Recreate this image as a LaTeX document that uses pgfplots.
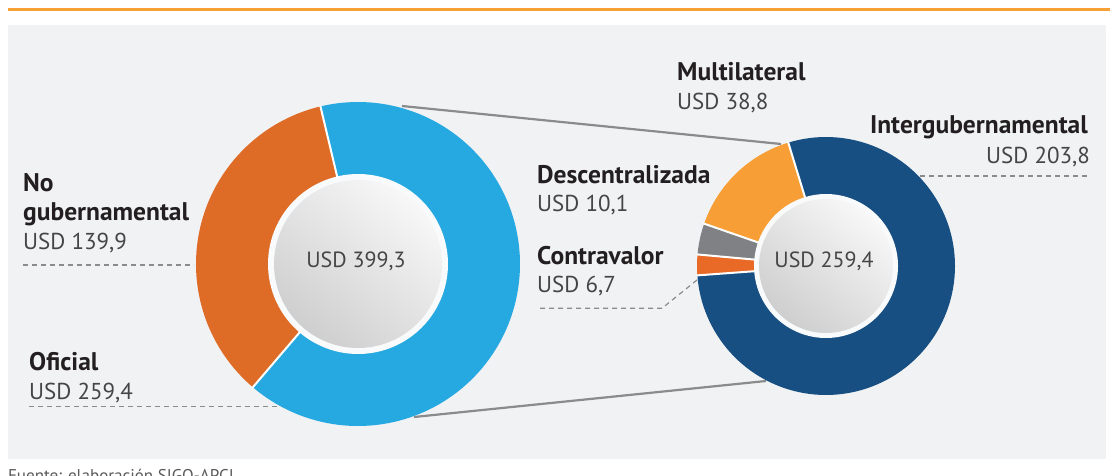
\documentclass[border=0pt]{standalone}
\usepackage{pgfplots}
\pgfplotsset{compat=1.18}
\usepackage{fontspec}
\setmainfont{PT Sans}
\definecolor{cOrange}{HTML}{DE6C27}
\definecolor{cBlue}{HTML}{25A9E0}
\definecolor{cNavy}{HTML}{174F82}
\definecolor{cLOrange}{HTML}{F79E36}
\definecolor{cGray}{HTML}{808184}
\definecolor{cContra}{HTML}{E86A26}
\definecolor{panel}{HTML}{F1F2F4}
\definecolor{topline}{HTML}{F7A035}
\definecolor{lineGray}{HTML}{8A8B8D}
\definecolor{txtDark}{HTML}{231F20}
\definecolor{txtVal}{HTML}{454547}
% data (USD)
\def\vOficial{259.4}
\def\vNoGub{139.9}
\def\vInter{203.8}
\def\vMulti{38.8}
\def\vDesc{10.1}
\def\vContra{6.7}
% left donut angles
\pgfmathsetmacro\Ltot{\vOficial+\vNoGub}
\pgfmathsetmacro\La{103.4}
\pgfmathsetmacro\Lb{\La-\vOficial/\Ltot*360}
\pgfmathsetmacro\Lc{\Lb+360}
% right donut angles
\pgfmathsetmacro\Rtot{\vInter+\vMulti+\vDesc+\vContra}
\pgfmathsetmacro\Ra{107}
\pgfmathsetmacro\Rz{\Ra-\vInter/\Rtot*360}
\pgfmathsetmacro\Rb{\Ra+\vMulti/\Rtot*360}
\pgfmathsetmacro\Rc{\Rb+\vDesc/\Rtot*360}
\pgfmathsetmacro\Rd{\Rc+\vContra/\Rtot*360}
\newcommand\wedgeplot[6]{%
  \addplot[fill=#6, draw=none, domain=#4:#5, samples=120, variable=\t]
    ({#1+#3*cos(\t)},{#2+#3*sin(\t)}) -- (#1,#2) -- cycle;}
\newcommand\sepline[5]{%
  \addplot[white, line width=2pt, domain=#3:#4, samples=2, variable=\t]
    ({#1+\t*cos(#5)},{#2+\t*sin(#5)});}
\newcommand\hole[4]{%
  \addplot[fill=white!60!panel, draw=none, domain=0:360, samples=160, variable=\t]
    ({#1+#3*cos(\t)},{#2+#3*sin(\t)}) -- cycle;
  \addplot[draw=none, top color=white!97!black, bottom color=black!19, shading angle=-40, domain=0:360, samples=160, variable=\t]
    ({#1+#4*cos(\t)},{#2+#4*sin(\t)}) -- cycle;}
\newcommand\bfl{\bfseries\fontsize{25.5}{29}\selectfont}
\newcommand\rgl{\fontsize{23}{27}\selectfont}
\begin{document}
\begin{tikzpicture}
\begin{axis}[x=1pt, y=1pt, xmin=0, xmax=1110, ymin=0, ymax=475,
  hide axis, clip=false, anchor=origin, at={(0,0)}]
\coordinate (BL) at (0,0);
\coordinate (TR) at (1110,475);
% background
\fill[panel] (8,16) rectangle (1106,450);
\addplot[topline, line width=2.6pt] coordinates {(8,465.5) (1110,465.5)};
% connectors
\addplot[lineGray, line width=2.2pt] coordinates {(402,369) (781,331)};
\addplot[lineGray, line width=2.2pt] coordinates {(414,58) (766,94)};
% dashed leaders
\addplot[lineGray, line width=1.2pt, dash pattern=on 5pt off 4pt] coordinates {(23,210) (194,210)};
\addplot[lineGray, line width=1.2pt, dash pattern=on 5pt off 4pt] coordinates {(29,68.3) (278,68.3)};
\addplot[lineGray, line width=1.2pt, dash pattern=on 5pt off 4pt] coordinates {(920,299) (1089,299)};
\addplot[lineGray, line width=1.2pt, dash pattern=on 5pt off 4pt] coordinates {(540,166.7) (662,166.7) (697,195)};
% left donut (center 358,211)
\wedgeplot{358}{211}{162}{\Lb}{\La}{cBlue}
\wedgeplot{358}{211}{162}{\La}{\Lc}{cOrange}
\hole{358}{211}{90}{84}
\sepline{358}{211}{88}{163}{\La}
\sepline{358}{211}{88}{163}{\Lb}
% right donut (center 826,209)
\wedgeplot{826}{209}{129}{\Rz}{\Ra}{cNavy}
\wedgeplot{826}{209}{129}{\Ra}{\Rb}{cLOrange}
\wedgeplot{826}{209}{129}{\Rb}{\Rc}{cGray}
\wedgeplot{826}{209}{129}{\Rc}{\Rd}{cContra}
\hole{826}{209}{72}{67}
\sepline{826}{209}{70}{130}{\Ra}
\sepline{826}{209}{70}{130}{\Rb}
\sepline{826}{209}{70}{130}{\Rc}
\sepline{826}{209}{70}{130}{\Rd}
% center labels
\node[txtVal, font=\fontsize{22}{26}\selectfont] at (356,214) {USD 399,3};
\node[txtVal, font=\fontsize{22}{26}\selectfont] at (824,214) {USD 259,4};
% labels
\begin{scope}[every node/.style={inner sep=0pt, font=\rgl}]
\node[anchor=base west, txtDark, font=\bfl] at (23,283.3) {No};
\node[anchor=base west, txtDark, font=\bfl] at (23,254.7) {gubernamental};
\node[anchor=base west, txtVal] at (23,226) {USD 139,9};
\node[anchor=base west, txtDark, font=\bfl] at (29,105) {Oficial};
\node[anchor=base west, txtVal] at (29,75.5) {USD 259,4};
\node[anchor=base west, txtDark, font=\bfl] at (677,395) {Multilateral};
\node[anchor=base west, txtVal] at (677,366) {USD 38,8};
\node[anchor=base east, txtDark, font=\bfl] at (1088,341.7) {Intergubernamental};
\node[anchor=base east, txtVal] at (1090,311.7) {USD 203,8};
\node[anchor=base west, txtDark, font=\bfl] at (537,291.7) {Descentralizada};
\node[anchor=base west, txtVal] at (537,263.3) {USD 10,1};
\node[anchor=base west, txtDark, font=\bfl] at (537,211) {Contravalor};
\node[anchor=base west, txtVal] at (537,182.3) {USD 6,7};
\node[anchor=north west, black!65, font=\fontsize{17}{20}\selectfont] at (8,6) {Fuente: elaboración SIGO-APCI};
\end{scope}
\end{axis}
\pgfresetboundingbox
\useasboundingbox (BL) rectangle (TR);
\end{tikzpicture}
\end{document}
